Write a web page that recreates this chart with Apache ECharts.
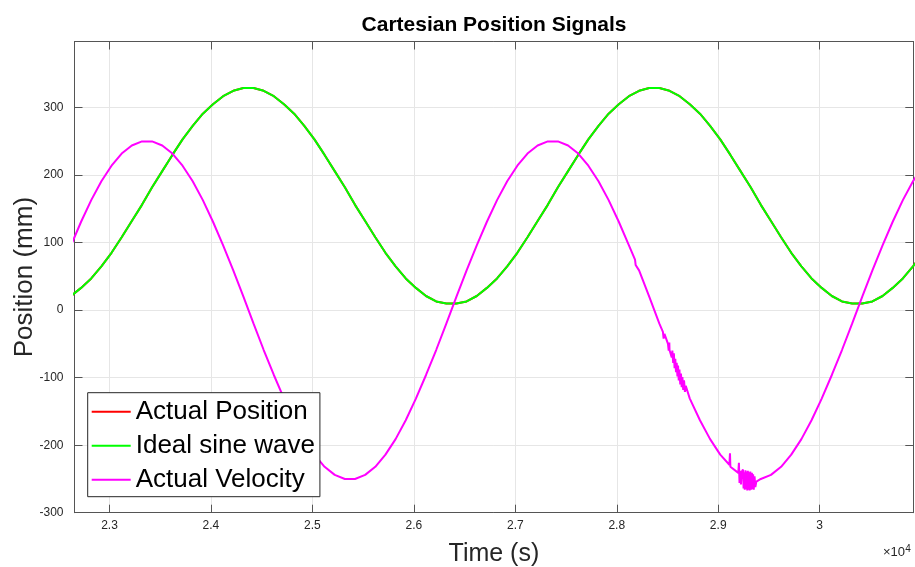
<!DOCTYPE html>
<html>
<head>
<meta charset="utf-8">
<script src="https://cdn.jsdelivr.net/npm/echarts@6.0.0/dist/echarts.min.js"></script>
<style>
  html, body { margin: 0; padding: 0; background: #fff; }
  #chart { width: 915px; height: 567px; }
</style>
</head>
<body>
<div id="chart"></div>
<script>
// ---- Data ----
const timeSamples = [
  22620, 22720, 22820, 22920, 23020, 23120, 23220, 23320, 23420, 23520,
  23620, 23720, 23820, 23920, 24020, 24120, 24220, 24320, 24420, 24520,
  24620, 24720, 24820, 24920, 25020, 25120, 25220, 25320, 25420, 25520,
  25620, 25720, 25820, 25920, 26020, 26120, 26220, 26320, 26420, 26520,
  26620, 26720, 26820, 26920, 27020, 27120, 27220, 27320, 27420, 27520,
  27620, 27720, 27820, 27920, 28020, 28120, 28220, 28320, 28420, 28520,
  28620, 28720, 28820, 28920, 29020, 29120, 29220, 29320, 29420, 29520,
  29620, 29720, 29820, 29920, 30020, 30120, 30220, 30320, 30420, 30520,
  30620, 30720, 30820, 30920, 31020
];

const idealSine = [
  21, 33, 47, 65, 85, 108, 132, 156, 182, 206, 230, 253, 273, 291, 305, 317, 325, 329,
  329, 325, 317, 305, 291, 273, 253, 230, 206, 182, 156, 132, 108, 85, 65, 47, 33, 21, 13, 10,
  10, 13, 21, 33, 47, 65, 85, 108, 132, 156, 182, 206, 230, 253, 273, 291, 305, 317, 325, 329,
  329, 325, 317, 305, 291, 273, 253, 230, 206, 182, 156, 132, 108, 85, 65, 47, 33, 21, 13, 10,
  10, 13, 21, 33, 47, 65, 85
];

// Actual position lies exactly under the ideal sine wave in the picture
const actualPosition = [
  21, 33, 47, 65, 85, 108, 132, 156, 182, 206, 230, 253, 273, 291, 305, 317, 325, 329,
  329, 325, 317, 305, 291, 273, 253, 230, 206, 182, 156, 132, 108, 85, 65, 47, 33, 21, 13, 10,
  10, 13, 21, 33, 47, 65, 85, 108, 132, 156, 182, 206, 230, 253, 273, 291, 305, 317, 325, 329,
  329, 325, 317, 305, 291, 273, 253, 230, 206, 182, 156, 132, 108, 85, 65, 47, 33, 21, 13, 10,
  10, 13, 21, 33, 47, 65, 85
];

const actualVelocity = [
  96, 131, 163, 191, 214, 232, 244, 250,
  250, 244, 232, 214, 191, 163, 131, 96, 59, 20, -20, -59, -96, -131, -163, -191, -214, -232, -244, -250,
  -250, -244, -232, -214, -191, -163, -131, -96, -59, -20, 20, 59, 96, 131, 163, 191, 214, 232, 244, 250,
  250, 244, 232, 214, 191, 163, 131, 96, 59, 20, -20, -59, -96, -131, -163, -191, -214, -232, -244, -250,
  -250, -244, -232, -214, -191, -163, -131, -96, -59, -20, 20, 59, 96, 131, 163, 191, 214
];

// jitter visible on the velocity trace: [time, value]
const velocityJitter = [
  [28180, 75], [28186, 67],
  [28455, -32], [28462, -42], [28470, -35], [28505, -50], [28512, -60], [28518, -48],
  [28535, -57], [28542, -70], [28548, -60], [28556, -78], [28563, -64], [28570, -86],
  [28577, -72], [28584, -92], [28591, -78], [28598, -98], [28604, -82], [28611, -104],
  [28618, -88], [28626, -110], [28633, -94], [28640, -114], [28647, -99], [28655, -118],
  [28663, -104], [28672, -121], [28680, -112],
  [29110, -229], [29116, -212], [29124, -231],
  [29198, -241], [29204, -226], [29210, -256], [29216, -238], [29224, -258], [29230, -240],
  [29244, -236], [29250, -264], [29256, -240], [29262, -266], [29268, -237], [29274, -265],
  [29280, -239], [29286, -267], [29292, -238], [29298, -266], [29304, -240], [29310, -267],
  [29316, -239], [29326, -266], [29332, -241], [29338, -265], [29344, -243], [29350, -266],
  [29358, -246], [29366, -262], [29376, -254]
];

const seriesNames = ['Actual Position', 'Ideal sine wave', 'Actual Velocity'];
const seriesColors = ['#ff0000', '#00ff00', '#ff00ff'];
const yTicks = [-300, -200, -100, 0, 100, 200, 300];

// ---- Build series data ----
const pair = (xs, ys) => xs.map((x, i) => [x, ys[i]]);
const posData = pair(timeSamples, actualPosition);
const idealData = pair(timeSamples, idealSine);
const velData = pair(timeSamples, actualVelocity).concat(velocityJitter).sort((a, b) => a[0] - b[0]);

const FONT = "'Liberation Sans', Arial, Helvetica, sans-serif";
const AXIS_COLOR = '#555555';
const TEXT_COLOR = '#262626';

const chart = echarts.init(document.getElementById('chart'), null, { renderer: 'canvas' });

const xCommon = {
  type: 'value',
  min: 22655,
  max: 30923,
  splitNumber: 8,
  axisLine: { show: true, onZero: false, lineStyle: { color: AXIS_COLOR, width: 1 } },
  axisTick: { show: true, inside: true, length: 8, lineStyle: { color: AXIS_COLOR, width: 1 } }
};
const yCommon = {
  type: 'value',
  min: yTicks[0],
  max: 398,
  interval: 100,
  axisLine: { show: true, onZero: false, lineStyle: { color: AXIS_COLOR, width: 1 } },
  axisTick: { show: true, inside: true, length: 8, lineStyle: { color: AXIS_COLOR, width: 1 } }
};

const option = {
  backgroundColor: '#ffffff',
  animation: false,
  title: {
    text: 'Cartesian Position Signals',
    left: 494,
    top: 15,
    textAlign: 'center',
    padding: 0,
    textStyle: { fontFamily: FONT, fontSize: 21, fontWeight: 'bold', color: '#000000' }
  },
  grid: { left: 74.5, right: 1.7, top: 41.5, bottom: 54.3, containLabel: false, outerBoundsMode: 'none' },
  legend: {
    orient: 'vertical',
    left: 87.7,
    top: 392.7,
    icon: 'rect',
    itemWidth: 39,
    itemHeight: 2,
    itemGap: 0,
    padding: [2, 5, 0, 4],
    backgroundColor: '#ffffff',
    borderColor: '#262626',
    borderWidth: 1,
    borderRadius: 0,
    selectedMode: false,
    data: seriesNames,
    textStyle: { fontFamily: FONT, fontSize: 26, color: '#000000', lineHeight: 34 }
  },
  xAxis: [
    Object.assign({}, xCommon, {
      position: 'bottom',
      name: 'Time (s)',
      nameLocation: 'middle',
      nameGap: 29,
      nameMoveOverlap: false,
      nameTextStyle: { fontFamily: FONT, fontSize: 25, color: TEXT_COLOR },
      splitLine: { show: true, lineStyle: { color: '#e6e6e6', width: 1 } },
      axisLabel: {
        show: true, margin: 7, fontFamily: FONT, fontSize: 12, color: TEXT_COLOR,
        showMinLabel: false, showMaxLabel: false,
        formatter: v => String(Math.round(v / 100) / 100)
      }
    }),
    Object.assign({}, xCommon, {
      position: 'top',
      splitLine: { show: false },
      axisLabel: { show: false }
    })
  ],
  yAxis: [
    Object.assign({}, yCommon, {
      position: 'left',
      name: 'Position (mm)',
      nameLocation: 'middle',
      nameGap: 37,
      nameMoveOverlap: false,
      nameTextStyle: { fontFamily: FONT, fontSize: 26, color: TEXT_COLOR },
      splitLine: { show: true, lineStyle: { color: '#e6e6e6', width: 1 } },
      axisLabel: {
        show: true, margin: 11, fontFamily: FONT, fontSize: 12, color: TEXT_COLOR,
        showMaxLabel: false
      }
    }),
    Object.assign({}, yCommon, {
      position: 'right',
      splitLine: { show: false },
      axisLabel: { show: false }
    })
  ],
  graphic: [
    {
      type: 'text', x: 905, y: 552.5,
      style: { text: '×10', fontFamily: FONT, fontSize: 13, fill: TEXT_COLOR, align: 'right', verticalAlign: 'middle' }
    },
    {
      type: 'text', x: 905.3, y: 549,
      style: { text: '4', fontFamily: FONT, fontSize: 10, fill: TEXT_COLOR, align: 'left', verticalAlign: 'middle' }
    }
  ],
  series: [
    {
      name: seriesNames[0], type: 'line', xAxisIndex: 0, yAxisIndex: 0,
      data: posData, showSymbol: false, symbol: 'none', clip: true,
      color: seriesColors[0], lineStyle: { color: seriesColors[0], width: 2 }
    },
    {
      name: seriesNames[1], type: 'line', xAxisIndex: 0, yAxisIndex: 0,
      data: idealData, showSymbol: false, symbol: 'none', clip: true,
      color: seriesColors[1], lineStyle: { color: seriesColors[1], width: 2 }
    },
    {
      name: seriesNames[2], type: 'line', xAxisIndex: 0, yAxisIndex: 0,
      data: velData, showSymbol: false, symbol: 'none', clip: true,
      color: seriesColors[2], lineStyle: { color: seriesColors[2], width: 2 }
    }
  ]
};

chart.setOption(option);
</script>
</body>
</html>
